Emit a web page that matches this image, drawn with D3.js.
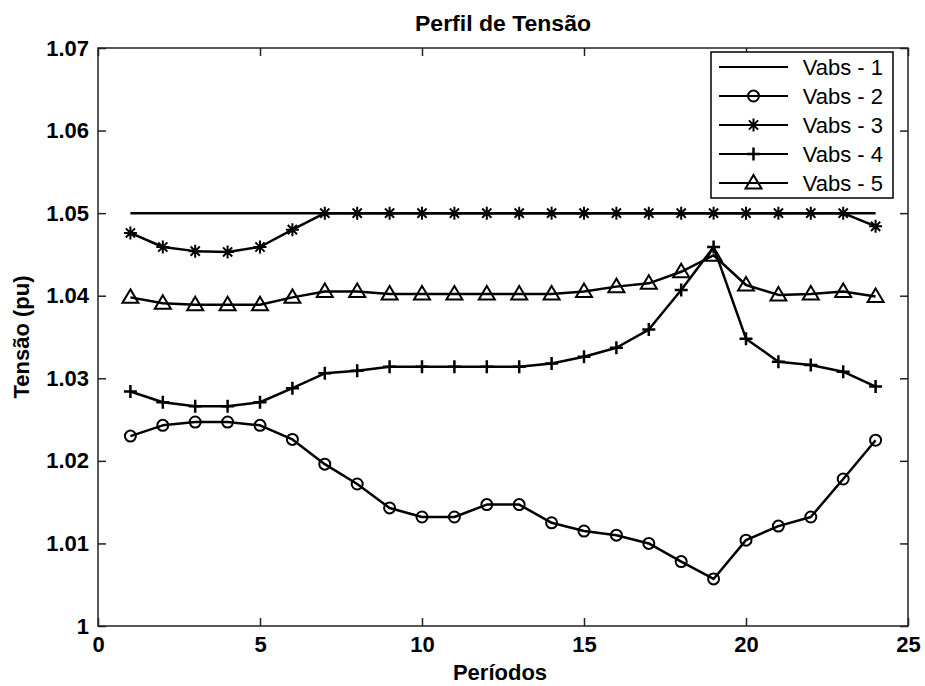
<!DOCTYPE html>
<html>
<head>
<meta charset="utf-8">
<script src="https://cdn.jsdelivr.net/npm/d3@7"></script>
<style>
  html, body { margin: 0; padding: 0; background: #fff; }
  svg { display: block; font-family: "Liberation Sans", Arial, sans-serif; }
</style>
</head>
<body>
<svg id="chart" width="925" height="686"></svg>
<script>
const periods = [1,2,3,4,5,6,7,8,9,10,11,12,13,14,15,16,17,18,19,20,21,22,23,24];
const xTicks = [0,5,10,15,20,25];
const yTicks = [1.00,1.01,1.02,1.03,1.04,1.05,1.06,1.07];
const seriesNames = ["Vabs - 1","Vabs - 2","Vabs - 3","Vabs - 4","Vabs - 5"];
const markerTypes = ["none","circle","asterisk","plus","triangle"];

const vabs1 = [1.05,1.05,1.05,1.05,1.05,1.05,1.05,1.05,1.05,1.05,1.05,1.05,1.05,1.05,1.05,1.05,1.05,1.05,1.05,1.05,1.05,1.05,1.05,1.05];
const vabs2 = [1.0230,1.0243,1.0247,1.0247,1.0243,1.0226,1.0196,1.0172,1.0143,1.0132,1.0132,1.0147,1.0147,1.0125,1.0115,1.0110,1.0100,1.0078,1.0057,1.0104,1.0121,1.0132,1.0178,1.0225];
const vabs3 = [1.0476,1.0459,1.0454,1.0453,1.0459,1.0480,1.0500,1.0500,1.0500,1.0500,1.0500,1.0500,1.0500,1.0500,1.0500,1.0500,1.0500,1.0500,1.0500,1.0500,1.0500,1.0500,1.0500,1.0484];
const vabs4 = [1.0284,1.0271,1.0266,1.0266,1.0271,1.0288,1.0306,1.0309,1.0314,1.0314,1.0314,1.0314,1.0314,1.0318,1.0326,1.0337,1.0359,1.0407,1.0459,1.0348,1.0320,1.0316,1.0308,1.0290];
const vabs5 = [1.0398,1.0391,1.0389,1.0389,1.0389,1.0398,1.0405,1.0405,1.0402,1.0402,1.0402,1.0402,1.0402,1.0402,1.0405,1.0411,1.0415,1.0429,1.0449,1.0413,1.0401,1.0402,1.0405,1.0399];

const allSeries = [vabs1, vabs2, vabs3, vabs4, vabs5];

const svg = d3.select("#chart");
const L = 98, R = 908, T = 48, B = 626;
const x = d3.scaleLinear().domain([0,25]).range([L,R]);
const y = d3.scaleLinear().domain([1,1.07]).range([B,T]);

// Title
svg.append("text")
  .attr("x", (L+R)/2).attr("y", 31)
  .attr("text-anchor","middle")
  .attr("font-size", 22).attr("font-weight","bold")
  .attr("textLength", 176).attr("lengthAdjust","spacingAndGlyphs")
  .text("Perfil de Tensão");

// Axes (ticks inward on all sides)
const tickLen = 8;
const axisColor = "#222";
const gBottom = svg.append("g").attr("transform",`translate(0,${B})`)
  .call(d3.axisBottom(x).tickValues(xTicks).tickSize(-tickLen).tickPadding(10).tickFormat(d3.format("d")));
const gTop = svg.append("g").attr("transform",`translate(0,${T})`)
  .call(d3.axisTop(x).tickValues(xTicks).tickSize(-tickLen).tickFormat(""));
const gLeft = svg.append("g").attr("transform",`translate(${L},0)`)
  .call(d3.axisLeft(y).tickValues(yTicks).tickSize(-tickLen).tickPadding(9)
    .tickFormat(d => Math.abs(d-1) < 1e-9 ? "1" : d3.format(".2f")(d)));
const gRight = svg.append("g").attr("transform",`translate(${R},0)`)
  .call(d3.axisRight(y).tickValues(yTicks).tickSize(-tickLen).tickFormat(""));

[gBottom,gTop,gLeft,gRight].forEach(g => {
  g.select(".domain").remove();
  g.selectAll(".tick line").attr("stroke",axisColor).attr("stroke-width",1.5);
  g.selectAll("text").attr("font-size",22).attr("font-weight","bold").attr("fill","#000")
    .attr("font-family",'"Liberation Sans", Arial, sans-serif');
});
gBottom.selectAll("text").attr("dy","0.71em");

svg.append("rect").attr("x",L).attr("y",T).attr("width",R-L).attr("height",B-T)
  .attr("fill","none").attr("stroke",axisColor).attr("stroke-width",1.5);

// Axis labels
svg.append("text").attr("x",500).attr("y",680).attr("text-anchor","middle")
  .attr("font-size",22).attr("font-weight","bold").text("Períodos");
svg.append("text").attr("transform",`translate(29,${(T+B)/2}) rotate(-90)`)
  .attr("text-anchor","middle").attr("font-size",22).attr("font-weight","bold").text("Tensão (pu)");

// Marker drawing
function drawMarker(g, type, cx, cy) {
  const s = {stroke:"#000","stroke-width":2, fill:"none"};
  let el;
  if (type === "circle") {
    el = g.append("circle").attr("cx",cx).attr("cy",cy).attr("r",5.5);
  } else if (type === "asterisk") {
    const r = 6.5, d = 4.6;
    el = g.append("path").attr("d",
      `M${cx-r},${cy}L${cx+r},${cy}M${cx},${cy-r}L${cx},${cy+r}` +
      `M${cx-d},${cy-d}L${cx+d},${cy+d}M${cx-d},${cy+d}L${cx+d},${cy-d}`);
  } else if (type === "plus") {
    const r = 6.5;
    el = g.append("path").attr("d",`M${cx-r},${cy}L${cx+r},${cy}M${cx},${cy-r}L${cx},${cy+r}`);
    s["stroke-width"] = 2.5;
  } else if (type === "triangle") {
    el = g.append("path").attr("d",`M${cx},${cy-8}L${cx+8},${cy+5.5}L${cx-8},${cy+5.5}Z`);
  } else return;
  Object.entries(s).forEach(([k,v]) => el.attr(k,v));
}

const line = d3.line().x((d,i) => x(periods[i])).y(d => y(d));
const plot = svg.append("g");
allSeries.forEach((vals, si) => {
  const g = plot.append("g");
  g.append("path").datum(vals).attr("d", line)
    .attr("fill","none").attr("stroke","#000").attr("stroke-width",2.5).attr("stroke-linejoin","round");
  vals.forEach((v,i) => drawMarker(g, markerTypes[si], x(periods[i]), y(v)));
});

// Legend
const lg = svg.append("g");
lg.append("rect").attr("x",711).attr("y",52).attr("width",182).attr("height",146)
  .attr("fill","#fff").attr("stroke","#000").attr("stroke-width",1.5);
seriesNames.forEach((name, i) => {
  const cy = 67 + i*29;
  lg.append("line").attr("x1",719).attr("x2",788).attr("y1",cy).attr("y2",cy)
    .attr("stroke","#000").attr("stroke-width",2);
  drawMarker(lg, markerTypes[i], 753.5, cy);
  lg.append("text").attr("x",883).attr("y",cy+8).attr("text-anchor","end")
    .attr("font-size",22).attr("fill","#000").text(name);
});
</script>
</body>
</html>
